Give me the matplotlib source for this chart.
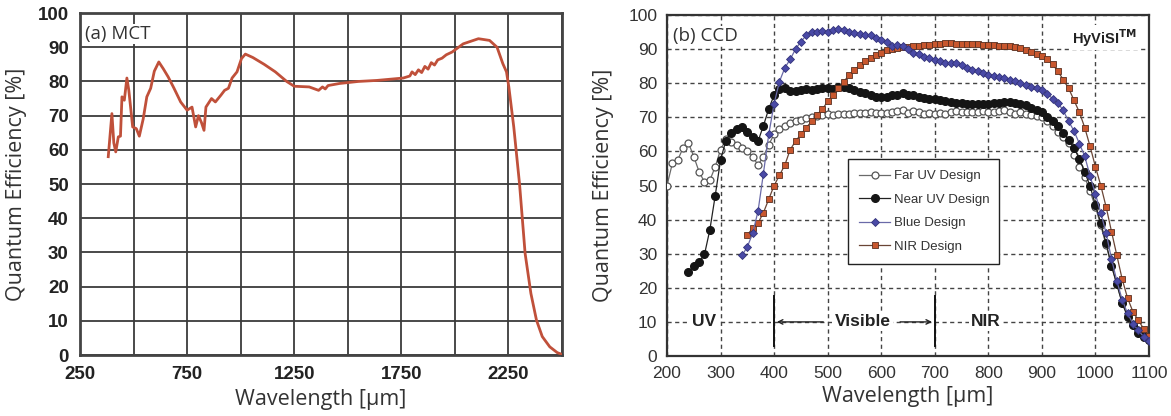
import numpy as np
import matplotlib
matplotlib.use("Agg")
import matplotlib.pyplot as plt

# ---------------- data: (a) MCT ----------------
mct_wl = [382, 399, 408, 417, 429, 439, 446, 457, 469, 478, 496, 513, 527, 545, 562, 580,
          597, 618, 639, 662, 689, 720, 750, 773, 790, 803, 817, 829, 838, 864, 882, 908,
          925, 943, 960, 983, 1004, 1022, 1057, 1110, 1162, 1215, 1250, 1320, 1364, 1382,
          1395, 1408, 1461, 1549, 1636, 1759, 1790, 1800, 1815, 1830, 1845, 1860, 1875,
          1890, 1905, 1920, 1940, 1960, 1987, 2039, 2110, 2162, 2197,
          2224, 2241, 2252, 2275, 2302, 2328, 2355, 2381, 2408, 2443, 2478, 2495]
mct_qe = [58, 70.6, 62, 59.4, 63.8, 64, 75.5, 74.5, 81, 77.4, 66.7, 66.2, 64, 69, 75.5, 78,
          83, 85.7, 83.7, 81.3, 78, 74, 71.6, 72.5, 66.7, 70, 68, 65.7, 72.5, 75, 74, 76,
          77.4, 78, 81, 82.8, 86.7, 88, 87, 85, 82.8, 80, 78.6, 78.4, 77.4, 78.4,
          77.8, 78.8, 79.4, 80, 80.3, 81, 81.6, 82.8, 82.0, 83.4, 82.6, 84.4, 83.6,
          85.5, 84.8, 86.3, 86.8, 87.8, 88.6, 91, 92.5, 92, 90,
          85.2, 82.8, 78.4, 66.7, 50, 29.7, 18, 10.2, 5.4, 2.4, 0.7, 0.3]
mct_xticks = [250, 500, 750, 1000, 1250, 1500, 1750, 2000, 2250, 2500]
mct_xticklabels = ["250", "", "750", "", "1250", "", "1750", "", "2250", ""]
qe_yticks = [0, 10, 20, 30, 40, 50, 60, 70, 80, 90, 100]

# ---------------- data: (b) CCD ----------------
faruv_wl = list(range(200, 1101, 10))
faruv_qe = [50, 56.5, 57.5, 61, 62.5, 58.5, 54, 51, 51.5, 55.5,
            60.5, 63.5, 62.8, 61.8, 61, 60, 58.5, 56, 58.5, 62,
            65, 66.5, 67.5, 68.3, 68.8, 69.3, 69.8, 70.2, 70.5, 70.8,
            71, 70.8, 71, 71, 71, 71.2, 71.2, 71.3, 71.5, 71.3,
            71.2, 71.3, 71.5, 71.8, 72, 71.2, 71.8, 71.5, 71, 71.2,
            71, 71.2, 71, 71.5, 71.8, 71.5, 71.5, 71.7, 71.5, 71.8,
            71.5, 71.6, 71.8, 72, 71.5, 71, 71.5, 71, 70.8, 70.5,
            70, 68.8, 67.4, 65.8, 64.2, 62.5, 59, 55.5, 52.5, 48.3,
            43.7, 38.3, 32.5, 26.5, 21, 15.5, 12, 9.5, 7.5, 6, 4.8]
nearuv_wl = list(range(240, 1101, 10))
nearuv_qe = [24.5, 26.5, 27.5, 29.8, 37, 47, 57.5, 63.2, 65.5, 66.5,
             67.2, 65.8, 64.3, 63, 67.5, 72.5, 76.5, 78.2, 78.5, 77.8,
             77.8, 78, 78.2, 78, 78.2, 78.5, 78.5, 78.3, 78.8, 79,
             78.5, 78, 77.5, 77, 76.5, 76, 76, 76, 76.5, 76.5,
             77, 76.5, 76.5, 76, 75.8, 75.5, 75.3, 75, 74.8, 74.5,
             74.2, 74.2, 74, 74, 74, 74, 74, 74.2, 74.3, 74.5,
             74.5, 74.3, 74, 73.5, 72.8, 72,
             71.5, 70.2, 69, 67.5, 65.5, 63.3, 61, 57.8, 54, 49.8,
             44.3, 39, 33, 26.5, 21, 15.5, 11.5, 9, 6.8, 5.6, 4.8]
blue_wl = list(range(340, 1101, 10))
blue_qe = [29.5, 32, 36, 42.5, 53.5, 65, 74, 80.5, 84.5, 87,
           90, 92.2, 94, 95, 95, 95.2, 95, 95.5, 96, 95.5,
           95, 94.6, 94.4, 94.2, 94, 93.4, 92.8, 92, 91, 91.2,
           90.8, 90, 89, 88.5, 87.8, 87.3, 86.8, 86.4, 86, 86,
           85.8, 85.2, 84.5, 84, 83.5, 83, 82.5, 82.2, 81.8, 81.4,
           81, 80.6, 80.2, 79.6, 79, 78.5,
           78, 76.8, 75.5, 74.2, 72, 68.8, 66, 62.3, 58.6, 52.8,
           47.5, 42, 36, 28.5, 22, 16.5, 12.5, 9.5, 7.5, 5.7, 4.5]
nir_wl = list(range(350, 1101, 10))
nir_qe = [35.5, 37.5, 39, 42, 46, 50, 53, 56, 60.5, 63,
          65, 67, 68.8, 70.8, 72.3, 74.7, 76.6, 78.6, 80.5, 82.3,
          83.8, 85.2, 86.5, 87.5, 88.3, 89, 89.6, 90, 90.3, 90.5,
          90.7, 90.9, 91, 91.2, 91.3, 91.5, 91.6, 91.8, 91.9, 91.5,
          91.6, 91.4, 91.5, 91.4, 91.3, 91.2, 91.2, 91, 91, 90.8,
          90.6, 90.2, 89.8, 89.3, 88.6,
          88, 87, 85.5, 83.5, 81, 78.5, 75, 71.5, 67, 61.5,
          55.5, 50, 43.7, 36.5, 29.5, 22.5, 17, 13, 10.5, 8, 6]
ccd_xticks = [200, 300, 400, 500, 600, 700, 800, 900, 1000, 1100]
series_labels = ["Far UV Design", "Near UV Design", "Blue Design", "NIR Design"]
band_labels = ["UV", "Visible", "NIR"]
band_label_x = [270, 565, 795]
band_edges = [400, 700]

# ---------------- figure ----------------
fig = plt.figure(figsize=(11.71, 4.16), dpi=100)
fig.patch.set_facecolor("white")

label_font = ["Open Sans", "DejaVu Sans"]
txtcol = "#333333"

# ----- (a) -----
ax1 = fig.add_axes([0.0683, 0.1466, 0.4116, 0.822])
ax1.plot(mct_wl, mct_qe, color="#c0503a", lw=2.0, zorder=3)
ax1.set_xlim(250, 2500)
ax1.set_ylim(0, 100)
ax1.set_xticks(mct_xticks)
ax1.set_xticklabels(mct_xticklabels)
ax1.set_yticks(qe_yticks)
ax1.grid(True, color="#3a3a3a", lw=1.3, ls="-")
ax1.set_axisbelow(True)
for s in ax1.spines.values():
    s.set_color("#444444")
    s.set_linewidth(2)
ax1.tick_params(length=0, pad=8, labelsize=13.5, colors="#222222")
for t in ax1.get_xticklabels() + ax1.get_yticklabels():
    t.set_fontweight("bold")
    t.set_family(["Liberation Sans", "DejaVu Sans"])
ax1.set_xlabel("Wavelength [µm]", fontsize=15.5, family=label_font, color=txtcol, labelpad=4)
ax1.set_ylabel("Quantum Efficiency [%]", fontsize=15.5, family=label_font, color=txtcol, labelpad=8)
ax1.text(0.01, 0.965, "(a) MCT", transform=ax1.transAxes, ha="left", va="top",
         fontsize=13.5, family=label_font, color=txtcol,
         bbox=dict(facecolor="white", edgecolor="none", pad=1))

# ----- (b) -----
ax2 = fig.add_axes([0.5696, 0.1442, 0.4116, 0.8197])
ax2.plot(faruv_wl, faruv_qe, color="#6a6a6a", lw=0.9, marker="o", ms=5,
         mfc="white", mec="#555555", mew=0.9, label=series_labels[0], zorder=3)
ax2.plot(nearuv_wl, nearuv_qe, color="#222222", lw=0.9, marker="o", ms=5.5,
         mfc="#151515", mec="#151515", label=series_labels[1], zorder=4)
ax2.plot(blue_wl, blue_qe, color="#6a6aa8", lw=0.9, marker="D", ms=4.2,
         mfc="#4a4aa6", mec="#33337a", mew=0.6, label=series_labels[2], zorder=5)
ax2.plot(nir_wl, nir_qe, color="#6a4535", lw=0.9, marker="s", ms=4.2,
         mfc="#c8572e", mec="#5a3020", mew=0.6, label=series_labels[3], zorder=4)
ax2.set_xlim(200, 1100)
ax2.set_ylim(0, 100)
ax2.set_xticks(ccd_xticks)
ax2.set_yticks(qe_yticks)
ax2.grid(True, color="#444444", lw=1.0, ls=(0, (3, 2.5)))
ax2.set_axisbelow(True)
for s in ax2.spines.values():
    s.set_color("#333333")
    s.set_linewidth(1.6)
ax2.tick_params(length=0, pad=7, labelsize=12.5, colors="#333333")
for t in ax2.get_xticklabels() + ax2.get_yticklabels():
    t.set_family(["Liberation Sans", "DejaVu Sans"])
ax2.set_xlabel("Wavelength [µm]", fontsize=15.5, family=label_font, color=txtcol, labelpad=4)
ax2.set_ylabel("Quantum Efficiency [%]", fontsize=15.5, family=label_font, color=txtcol, labelpad=10)
ax2.text(0.012, 0.965, "(b) CCD", transform=ax2.transAxes, ha="left", va="top",
         fontsize=13.5, family=label_font, color=txtcol,
         bbox=dict(facecolor="white", edgecolor="none", pad=1))
ax2.text(0.975, 0.965, r"HyViSI$^{\mathbf{TM}}$", transform=ax2.transAxes, ha="right", va="top",
         fontsize=10.5, fontweight="bold", family=["Liberation Sans", "DejaVu Sans"], color="#222222",
         bbox=dict(facecolor="white", edgecolor="none", pad=1))

# band annotations
for lab, xx in zip(band_labels, band_label_x):
    ax2.text(xx, 10, lab, ha="center", va="center", fontsize=12.5, fontweight="bold",
             family=["Liberation Sans", "DejaVu Sans"], color="#222222", zorder=6,
             bbox=dict(facecolor="white", edgecolor="none", pad=1.5))
for xe in band_edges:
    ax2.plot([xe, xe], [3, 17.5], color="#111111", lw=1.4, zorder=6)
ax2.annotate("", xy=(band_edges[0], 10), xytext=(497, 10),
             arrowprops=dict(arrowstyle="->", color="#222222", lw=1.0, mutation_scale=8), zorder=6)
ax2.annotate("", xy=(band_edges[1], 10), xytext=(630, 10),
             arrowprops=dict(arrowstyle="->", color="#222222", lw=1.0, mutation_scale=8), zorder=6)

leg = ax2.legend(loc="lower left", bbox_to_anchor=(0.376, 0.27, 0.313, 0.30), mode="expand",
                 borderaxespad=0, frameon=True, fancybox=False, borderpad=0.85, labelspacing=0.85,
                 handlelength=2.3, handletextpad=0.3,
                 prop={"family": ["Liberation Sans Narrow", "Liberation Sans"], "size": 9.5})
leg.get_frame().set_edgecolor("#222222")
leg.get_frame().set_linewidth(1.0)
leg.get_frame().set_alpha(1)
for t in leg.get_texts():
    t.set_color("#333333")

fig.savefig("out.png", dpi=100, facecolor="white")
